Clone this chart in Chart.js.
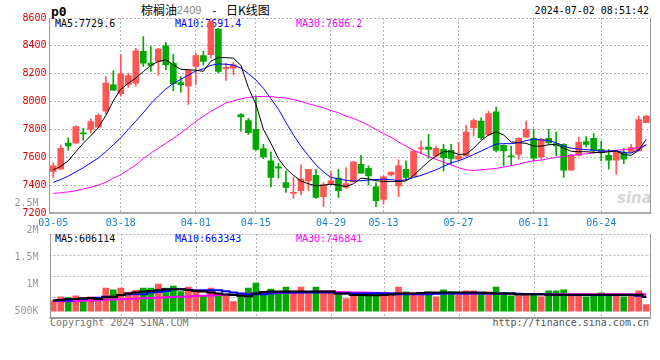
<!DOCTYPE html>
<html lang="zh">
<head>
<meta charset="UTF-8">
<title>棕榈油2409 日K线图</title>
<script src="https://cdn.jsdelivr.net/npm/chart.js@4.4.1/dist/chart.umd.min.js"></script>
<style>
  body { margin: 0; background: #fff; }
  #wrap { position: relative; width: 660px; height: 360px; overflow: hidden; font-family: "DejaVu Sans Mono", monospace; }
  .t { position: absolute; white-space: nowrap; font-size: 10px; line-height: 10px; }
  .cjk { font-family: "Noto Sans CJK SC", sans-serif; font-size: 12px; line-height: 12px; }
  canvas { position: absolute; left: 0; }
</style>
</head>
<body>
<div id="wrap">
  <span class="t" style="left:51px;top:5px;font-size:13px;line-height:13px;font-weight:bold;">p0</span>
  <span class="t cjk" style="left:141px;top:4px;">棕榈油</span>
  <span class="t" style="left:177px;top:5px;font-family:'Liberation Sans',sans-serif;font-size:11px;line-height:11px;color:#888;">2409</span>
  <span class="t" style="left:211px;top:5px;font-size:11px;line-height:11px;">-</span>
  <span class="t cjk" style="left:226px;top:4px;">日K线图</span>
  <span class="t" style="right:11px;top:6px;">2024-07-02 08:51:42</span>

  <span class="t" style="left:55px;top:19px;color:#000;">MA5:7729.6</span>
  <span class="t" style="left:175px;top:19px;color:#0000ff;">MA10:7691.4</span>
  <span class="t" style="left:296px;top:19px;color:#ff00ff;">MA30:7686.2</span>

  <span class="t" style="left:55px;top:234px;color:#000;">MA5:606114</span>
  <span class="t" style="left:175px;top:234px;color:#0000ff;">MA10:663343</span>
  <span class="t" style="left:296px;top:234px;color:#ff00ff;">MA30:746841</span>

  <span class="t" style="left:617px;top:191px;font-family:'DejaVu Sans',sans-serif;font-size:15px;line-height:15px;font-style:italic;font-weight:bold;color:#d4d4d4;">sina</span>

  <span class="t" style="left:50px;top:318px;color:#777;">Copyright 2024 SINA.COM</span>
  <span class="t" style="right:11px;top:318px;color:#555;">http://finance.sina.com.cn</span>

  <canvas id="kChart" width="660" height="240" style="top:0"></canvas>
  <canvas id="volChart" width="660" height="170" style="top:190px"></canvas>
</div>

<script>
// 交易日
const dates = [
  '03-05','03-06','03-07','03-08','03-11','03-12','03-13','03-14','03-15','03-18',
  '03-19','03-20','03-21','03-22','03-25','03-26','03-27','03-28','03-29','04-01',
  '04-02','04-03','04-08','04-09','04-10','04-11','04-12','04-15','04-16','04-17',
  '04-18','04-19','04-22','04-23','04-24','04-25','04-26','04-29','04-30','05-06',
  '05-07','05-08','05-09','05-10','05-13','05-14','05-15','05-16','05-17','05-20',
  '05-21','05-22','05-23','05-24','05-27','05-28','05-29','05-30','05-31','06-03',
  '06-04','06-05','06-06','06-07','06-11','06-12','06-13','06-14','06-17','06-18',
  '06-19','06-20','06-21','06-24','06-25','06-26','06-27','06-28','07-01','07-02'
];
const xLabels = ['03-05','03-18','04-01','04-15','04-29','05-13','05-27','06-11','06-24'];

// K线 开高低收
const opens = [
  7498,7514,7702,7702,7775,7800,7817,7931,8121,8057,
  8121,8133,8360,8276,8288,8400,8276,8136,8110,8252,
  8331,8336,8521,8236,8240,7907,7864,7800,7662,7574,
  7531,7419,7340,7360,7431,7471,7317,7407,7450,7383,
  7424,7550,7521,7388,7298,7474,7395,7514,7462,7660,
  7674,7609,7657,7650,7586,7610,7812,7860,7760,7926,
  7686,7610,7621,7745,7736,7602,7736,7698,7693,7507,
  7614,7712,7736,7657,7614,7579,7633,7638,7645,7848
];
const highs = [
  7562,7688,7740,7825,7807,7876,7912,8179,8221,8340,
  8205,8383,8467,8395,8383,8426,8340,8179,8224,8348,
  8360,8580,8526,8276,8281,7914,7879,8040,7693,7640,
  7557,7502,7455,7545,7514,7514,7419,7498,7514,7526,
  7567,7614,7538,7419,7467,7493,7581,7574,7645,7717,
  7764,7680,7693,7693,7710,7829,7876,7883,7931,7960,
  7690,7681,7740,7860,7800,7740,7800,7781,7698,7621,
  7745,7748,7771,7717,7657,7640,7662,7693,7895,7900
];
const lows = [
  7455,7514,7650,7702,7721,7774,7817,7912,8081,8038,
  8102,8110,8252,8217,8188,8229,8079,8067,7979,8121,
  8264,8312,8205,8152,8193,7788,7764,7650,7590,7388,
  7450,7348,7305,7329,7360,7305,7245,7402,7312,7376,
  7424,7486,7402,7245,7264,7467,7317,7436,7462,7626,
  7593,7600,7502,7550,7574,7607,7752,7729,7755,7638,
  7538,7545,7586,7745,7574,7586,7693,7610,7455,7507,
  7610,7674,7633,7574,7514,7479,7555,7633,7645,7848
];
const closes = [
  7538,7664,7681,7821,7768,7857,7902,8133,8081,8200,
  8186,8364,8276,8260,8376,8264,8129,8121,8224,8331,
  8288,8574,8217,8245,8264,7890,7776,7657,7602,7455,
  7521,7383,7348,7443,7514,7312,7402,7431,7360,7412,
  7567,7486,7467,7288,7460,7493,7538,7455,7645,7667,
  7657,7664,7598,7591,7610,7781,7864,7740,7914,7650,
  7645,7603,7736,7800,7593,7729,7705,7681,7507,7614,
  7710,7693,7645,7633,7579,7640,7586,7669,7871,7895
];

// 均线
const ma5 = [
  7510,7535,7575,7640,7700,7755,7812,7900,8005,8090,
  8130,8170,8215,8260,8288,8300,8264,8232,8229,8225,
  8217,8290,8317,8315,8312,8260,8100,7980,7800,7700,
  7590,7520,7470,7430,7410,7395,7400,7407,7400,7390,
  7410,7450,7445,7432,7426,7426,7426,7430,7470,7520,
  7570,7610,7640,7640,7621,7622,7665,7720,7760,7783,
  7760,7710,7705,7700,7680,7680,7690,7693,7665,7643,
  7640,7640,7635,7633,7640,7645,7620,7614,7650,7730
];
const ma10 = [
  7420,7440,7465,7495,7525,7560,7595,7640,7690,7740,
  7800,7860,7920,7985,8040,8090,8130,8160,8190,8220,
  8235,8260,8270,8268,8262,8240,8200,8155,8095,8020,
  7945,7850,7760,7680,7610,7545,7495,7455,7445,7435,
  7430,7432,7436,7440,7443,7440,7432,7438,7455,7470,
  7490,7510,7535,7560,7575,7595,7620,7645,7670,7695,
  7698,7698,7705,7720,7729,7725,7720,7705,7680,7665,
  7660,7655,7650,7645,7645,7645,7635,7630,7655,7691
];
const ma30 = [
  7340,7345,7352,7360,7372,7385,7400,7420,7450,7475,
  7510,7545,7590,7630,7665,7700,7735,7775,7815,7858,
  7895,7930,7960,7990,8005,8020,8030,8036,8036,8035,
  8030,8025,8015,8000,7985,7970,7955,7935,7920,7895,
  7880,7855,7830,7800,7770,7745,7710,7680,7650,7628,
  7605,7585,7565,7545,7525,7510,7505,7510,7515,7520,
  7530,7540,7550,7565,7575,7580,7590,7600,7605,7615,
  7620,7625,7630,7640,7645,7650,7655,7662,7670,7686
];

// 成交量
const volumes = [
  698000,770000,752000,788000,728000,770000,758000,932000,896000,932000,
  854000,890000,932000,932000,1004000,932000,968000,866000,950000,866000,
  788000,932000,830000,788000,680000,806000,932000,1022000,830000,914000,
  830000,950000,878000,950000,866000,950000,866000,878000,806000,734000,
  830000,830000,830000,818000,818000,830000,950000,860000,830000,830000,
  830000,770000,896000,860000,806000,878000,878000,830000,860000,950000,
  848000,788000,788000,818000,806000,770000,878000,878000,896000,788000,
  788000,770000,806000,842000,788000,806000,770000,806000,878000,626000
];
const volMa5 = [
  698000,710000,728000,728000,740000,746000,728000,758000,770000,800000,
  830000,848000,866000,878000,890000,908000,908000,908000,896000,878000,
  866000,850000,830000,812000,800000,788000,780000,830000,860000,866000,
  866000,866000,866000,866000,866000,866000,866000,866000,830000,830000,
  800000,800000,795000,795000,800000,812000,830000,830000,830000,840000,
  848000,848000,848000,848000,848000,848000,848000,848000,840000,830000,
  830000,830000,812000,818000,818000,818000,812000,806000,806000,806000,
  806000,806000,806000,806000,806000,806000,806000,806000,806000,770000
];
const volMa10 = [
  698000,698000,698000,728000,728000,740000,752000,770000,770000,800000,
  818000,818000,818000,848000,860000,878000,908000,908000,900000,890000,
  890000,890000,890000,870000,850000,830000,818000,818000,818000,830000,
  848000,848000,848000,848000,848000,848000,848000,848000,830000,830000,
  830000,830000,830000,836000,836000,830000,818000,818000,818000,818000,
  818000,824000,830000,830000,830000,830000,830000,830000,830000,830000,
  830000,830000,825000,818000,818000,818000,812000,806000,800000,800000,
  800000,800000,800000,800000,800000,800000,800000,800000,790000,770000
];
const volMa30 = [
  686000,686000,686000,686000,695000,700000,706000,712000,718000,722000,
  728000,734000,740000,746000,752000,758000,764000,770000,776000,782000,
  788000,794000,800000,806000,812000,818000,824000,828000,832000,836000,
  840000,845000,850000,855000,860000,864000,866000,866000,860000,855000,
  850000,848000,845000,840000,836000,832000,830000,830000,830000,830000,
  830000,830000,830000,830000,830000,830000,830000,830000,830000,830000,
  826000,824000,822000,820000,820000,818000,818000,818000,818000,818000,
  818000,818000,818000,818000,818000,818000,818000,818000,818000,818000
];
const volTicks = [500000, 1000000, 1500000, 2000000, 2500000];

const UP = '#ff5555';
const DOWN = '#00a800';
const GRID = '#b4b4b4';
const FRAME = '#999';
const MONO = { family: 'DejaVu Sans Mono', size: 10 };

const candleColors = opens.map((o, i) => closes[i] >= o ? UP : DOWN);
const showLabel = i => xLabels.includes(dates[i]);

// 右边框
const rightBorder = {
  id: 'rightBorder',
  afterDraw(chart) {
    const { ctx, chartArea: a } = chart;
    const x = Math.round(a.right) + 0.5;
    ctx.save();
    ctx.strokeStyle = FRAME;
    ctx.lineWidth = 1;
    ctx.beginPath();
    ctx.moveTo(x, a.top);
    ctx.lineTo(x, a.bottom);
    ctx.stroke();
    ctx.restore();
  }
};

// 成交量面板网格和边框 (面板只占图表区下部)
const PANEL_H = 84;
const volFrame = {
  id: 'volFrame',
  beforeDatasetsDraw(chart) {
    const { ctx, chartArea: a, scales: { x } } = chart;
    const top = a.bottom - PANEL_H;
    ctx.save();
    ctx.strokeStyle = GRID;
    ctx.lineWidth = 1;
    ctx.setLineDash([2, 2]);
    ctx.beginPath();
    for (const f of [0, 0.25, 0.5, 0.75]) {
      const y = Math.round(top + PANEL_H * f) + 0.5;
      ctx.moveTo(a.left, y);
      ctx.lineTo(a.right, y);
    }
    dates.forEach((d, i) => {
      if (i > 0 && showLabel(i)) {
        const px = Math.round(x.getPixelForValue(i)) + 0.5;
        ctx.moveTo(px, top);
        ctx.lineTo(px, a.bottom);
      }
    });
    ctx.stroke();
    ctx.restore();
  },
  afterDraw(chart) {
    const { ctx, chartArea: a } = chart;
    const top = a.bottom - PANEL_H;
    const l = Math.round(a.left) + 0.5, r = Math.round(a.right) + 0.5;
    ctx.save();
    ctx.strokeStyle = FRAME;
    ctx.lineWidth = 1;
    ctx.beginPath();
    ctx.moveTo(l, top); ctx.lineTo(l, a.bottom);
    ctx.moveTo(r, top); ctx.lineTo(r, a.bottom);
    ctx.stroke();
    ctx.lineWidth = 2;
    ctx.beginPath();
    ctx.moveTo(a.left, Math.round(a.bottom));
    ctx.lineTo(a.right + 1, Math.round(a.bottom));
    ctx.stroke();
    ctx.restore();
  }
};

function maLine(data, color, width, stepped) {
  return {
    type: 'line', data: data, borderColor: color, borderWidth: width,
    pointRadius: 0, fill: false, tension: 0, stepped: stepped || false
  };
}

new Chart(document.getElementById('kChart'), {
  type: 'bar',
  data: {
    labels: dates,
    datasets: [
      maLine(ma5, '#000000', 1),
      maLine(ma10, '#0000ff', 1),
      maLine(ma30, '#ff00ff', 1),
      {
        data: lows.map((l, i) => [l, highs[i]]),
        backgroundColor: candleColors, barThickness: 1, grouped: false, minBarLength: 1
      },
      {
        data: opens.map((o, i) => [o, closes[i]]),
        backgroundColor: candleColors, barThickness: 6, grouped: false, minBarLength: 1
      }
    ]
  },
  options: {
    responsive: false,
    animation: false,
    layout: { padding: { top: 18, right: 10, left: 0, bottom: 0 } },
    plugins: { legend: { display: false }, tooltip: { enabled: false } },
    scales: {
      x: {
        offset: true,
        afterFit(s) { s.height = 27; },
        ticks: {
          autoSkip: false, maxRotation: 0, minRotation: 0, padding: 4,
          color: '#1b82d1', font: MONO,
          callback: (v, i) => showLabel(i) ? dates[i] : ''
        },
        grid: {
          offset: false, drawTicks: false,
          color: c => (c.index > 0 && showLabel(c.index)) ? GRID : 'rgba(0,0,0,0)'
        },
        border: { color: '#aaa', width: 2, dash: [2, 2] }
      },
      y: {
        min: 7200, max: 8600,
        afterFit(s) { s.width = 49.5; },
        ticks: { stepSize: 200, color: '#dd0000', font: MONO, padding: 3, callback: v => String(v) },
        grid: { color: GRID, drawTicks: false },
        border: { color: FRAME, dash: [2, 2] }
      }
    }
  },
  plugins: [rightBorder]
});

new Chart(document.getElementById('volChart'), {
  type: 'bar',
  data: {
    labels: dates,
    datasets: [
      maLine(volMa5, '#000000', 2, 'middle'),
      maLine(volMa10, '#0000ff', 2, 'middle'),
      maLine(volMa30, '#ff00ff', 2, 'middle'),
      { data: volumes, base: 500000, backgroundColor: candleColors, barThickness: 6 }
    ]
  },
  options: {
    responsive: false,
    animation: false,
    layout: { padding: { top: 5, right: 10, left: 0, bottom: 42 } },
    plugins: { legend: { display: false }, tooltip: { enabled: false } },
    scales: {
      x: { display: false, offset: true },
      y: {
        min: 374000, max: 2588000,
        afterFit(s) { s.width = 49.5; },
        afterBuildTicks(s) { s.ticks = volTicks.map(v => ({ value: v })); },
        ticks: {
          color: '#999', font: MONO, padding: 3,
          callback: v => v >= 1000000 ? (v / 1000000) + 'M' : (v / 1000) + 'K'
        },
        grid: { display: false },
        border: { display: false }
      }
    }
  },
  plugins: [volFrame]
});
</script>
</body>
</html>
